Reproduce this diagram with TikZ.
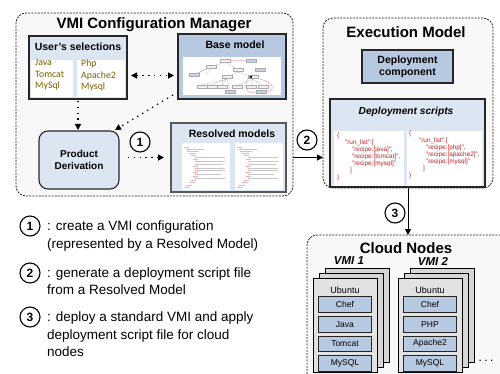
\documentclass[tikz,border=0pt]{standalone}
\usepackage{fontspec}
\setmainfont{Liberation Sans}
\newfontfamily\calfont{Carlito}
\usetikzlibrary{arrows.meta}
\definecolor{steel}{HTML}{B7C9E0}
\definecolor{pale}{HTML}{DCE6F2}
\definecolor{bgg}{HTML}{F8F8F8}
\definecolor{selcol}{HTML}{7F6000}
\definecolor{jred}{HTML}{C02020}
\definecolor{stk}{HTML}{D6D6D6}
\definecolor{stkf}{HTML}{E2E2E2}
\definecolor{bord}{HTML}{262626}
\definecolor{mblue}{HTML}{C5D2EA}
\tikzset{
 cont/.style={draw=black!85, fill=bgg, dash pattern=on 2pt off 1.2pt, line width=0.8pt, rounded corners=10pt, anchor=north west, inner sep=0pt, outer sep=0pt},
 box/.style={draw=bord, line width=1.1pt, anchor=north west, inner sep=0pt, outer sep=0pt},
 panel/.style={fill=white, anchor=north west, inner sep=0pt, outer sep=0pt},
 ttl/.style={font=\fontsize{15}{17}\selectfont\bfseries, inner sep=0pt},
 hdr/.style={font=\fontsize{10.5}{12}\selectfont\bfseries, inner sep=0pt},
 seltext/.style={anchor=north west, inner sep=0pt, align=left, text=selcol, font=\calfont\fontsize{9.8}{11.5}\selectfont},
 jtext/.style={anchor=north west, inner sep=0pt, align=left, text=jred, font=\fontsize{6.4}{7}\selectfont},
 dotarr/.style={line width=1.3pt, dash pattern=on 1.3pt off 4.5pt, -{Triangle[length=6pt,width=6pt]}},
 solarr/.style={line width=1pt, -{Triangle[length=6pt,width=6pt]}},
 num/.style={circle, draw=black, line width=1.1pt, minimum size=20pt, inner sep=0pt, font=\fontsize{12}{12}\selectfont\bfseries, fill=white},
 legtext/.style={anchor=north west, inner sep=0pt, align=left, font=\fontsize{13.5}{17.5}\selectfont},
 stkbox/.style={draw=black, line width=0.9pt, fill=stk, anchor=north west, minimum width=64pt, minimum height=94pt, inner sep=0pt, outer sep=0pt},
 swbox/.style={draw=bord, line width=0.9pt, fill=steel, anchor=north west, minimum width=53pt, minimum height=15.5pt, inner sep=0pt, font=\fontsize{8.5}{10}\selectfont},
 vmil/.style={font=\fontsize{11.5}{12}\selectfont\bfseries\itshape, inner sep=0pt},
}
\begin{document}
\begin{tikzpicture}[x=1pt,y=-1pt]
\useasboundingbox (0,0) rectangle (500,374);
\clip (0,0) rectangle (500,374);
\fill[white] (0,0) rectangle (500,374);

% ---------- containers
\node[cont, minimum width=277pt, minimum height=183pt] (vmi) at (16,13) {};
\node[cont, minimum width=170pt, minimum height=170pt] (exec) at (323,18) {};
\node[cont, minimum width=210pt, minimum height=150pt] (cloud) at (307,235) {};
\node[ttl] (vmit) at (154,25) {VMI Configuration Manager};
\node[ttl] (exect) at (406,32) {Execution Model};
\node[ttl] (cloudt) at (406,248) {Cloud Nodes};

% ---------- user's selections
\node[box, fill=pale, minimum width=98pt, minimum height=63pt] (sel) at (29,36) {};
\node[hdr] (selh) at (78,47) {User's selections};
\node[panel, minimum width=42pt, minimum height=37pt] (selL) at (31,60) {};
\node[panel, minimum width=48pt, minimum height=37pt] (selR) at (77,60) {};
\node[seltext] (selLt) at (35,59.5) {Java\\Tomcat\\MySql};
\node[seltext] (selRt) at (81,59.5) {Php\\Apache2\\Mysql};

% ---------- base model
\node[box, fill=steel, minimum width=108pt, minimum height=65pt] (base) at (178,34) {};
\node[hdr, font=\fontsize{10.5}{12}\selectfont\bfseries] (baseh) at (235,45) {Base model};
\node[panel, minimum width=98pt, minimum height=38pt] (bimg) at (183,57) {};
\begin{scope}[line width=0.25pt]
 \draw[gray!60] (225,62) -- (211,67) (225,62) -- (238,70) (238,72) -- (227,77) (238,72) -- (253,77)
   (227,79) -- (201,85) (227,79) -- (211,85) (227,79) -- (221,85) (227,79) -- (230,90)
   (253,79) -- (238,85) (253,79) -- (251,85) (253,79) -- (262,85) (211,69) -- (206,75);
 \draw[red!60] (230,60.5) -- (246,60.5) (208,68) -- (196,74) (248,78) .. controls (241,91) and (251,95) .. (259,92)
   (259,79) .. controls (274,82) and (277,91) .. (265,92);
 \foreach \bx/\by/\bc in {220/59/gray!12,246/59/mblue,206/65/gray!12,189/73/mblue,233/68/gray!12,255/68/mblue,
   222/75/gray!12,248/75/gray!12,197/85/gray!12,207/85/gray!12,217/85/gray!12,232/85/gray!12,246/85/gray!12,258/85/gray!12,225/90/mblue,256/90/mblue}
   {\fill[\bc] (\bx,\by) rectangle ++(10,3.2); \draw[gray!65] (\bx,\by) rectangle ++(10,3.2);}
 \fill[black] (249,77) -- (252,75.5) -- (251.5,78.5) -- cycle;
\end{scope}

% ---------- product derivation
\node[box, fill=pale, rounded corners=9pt, minimum width=80pt, minimum height=58pt, align=center,
  font=\fontsize{10}{11.5}\selectfont\bfseries] (pd) at (39,131) {Product\\Derivation};

% ---------- resolved models
\node[box, draw=black!65, line width=1.6pt, fill=pale, minimum width=115pt, minimum height=69pt] (rm) at (171,123) {};
\node[hdr] (rmh) at (232,134) {Resolved models};
\node[panel, minimum width=48pt, minimum height=47pt] (rm1) at (182,143) {};
\node[panel, minimum width=48pt, minimum height=47pt] (rm2) at (235,143) {};
\foreach \px in {182,235} {
 \foreach \i/\a/\b in {0/2/5,1/4/18,2/5/12,3/7/7,4/9/5,5/13/30,6/11/5,7/13/30,8/13/28,9/11/5,10/13/30,11/13/30,12/11/5,13/13/26,14/11/5,15/13/30,16/9/5,17/7/6,18/4/6,19/2/6}
 {\draw[line width=0.45pt, gray!45] (\px+\a, 147+\i*2.1) -- ++(\b,0);
  \draw[line width=0.45pt, red!35] (\px+\a, 147+\i*2.1) -- ++(1.5,0);}
}

% ---------- execution model contents
\node[box, fill=steel, minimum width=91pt, minimum height=33pt, align=center,
  font=\fontsize{10.5}{12}\selectfont\bfseries] (dc) at (362,50) {Deployment\\component};
\node[box, fill=pale, minimum width=155pt, minimum height=88pt] (ds) at (330,99) {};
\node[hdr, font=\fontsize{10.2}{12}\selectfont\bfseries\itshape] (dsh) at (406,112) {Deployment scripts};
\node[panel, minimum width=70pt, minimum height=55pt] (js1) at (334,131) {};
\node[panel, minimum width=75pt, minimum height=55pt] (js2) at (407,131) {};
\node[jtext] (j1) at (337,133) {\{\\\hspace*{8pt}"run\_list":[\\\hspace*{15pt}"recipe:[java]",\\\hspace*{15pt}"recipe:[tomcat]",\\\hspace*{15pt}"recipe:[mysql]"\\\hspace*{13pt}]\\\}};
\node[jtext] (j2) at (409,131) {\{\\\hspace*{10pt}"run\_list":[\\\hspace*{17pt}"recipe:[php]",\\\hspace*{17pt}"recipe:[apache2]",\\\hspace*{17pt}"recipe:[mysql]"\\\hspace*{14pt}]\\\}};

% ---------- cloud nodes
\node[vmil] (v1) at (349,261) {VMI 1};
\node[vmil] (v2) at (433,261) {VMI 2};
\node[stkbox] (s1c) at (325,268) {};
\node[stkbox] (s1b) at (319,273) {};
\node[stkbox, fill=stkf] (s1a) at (313,278) {};
\node[font=\fontsize{9}{10}\selectfont, inner sep=0pt] (u1) at (345,290) {Ubuntu};
\node[swbox] (s1chef) at (318,296) {Chef};
\node[swbox] (s1java) at (318,316) {Java};
\node[swbox] (s1tom) at (318,335.5) {Tomcat};
\node[swbox] (s1my) at (318,355) {MySQL};
\node[stkbox] (s2c) at (410,268) {};
\node[stkbox] (s2b) at (404,273) {};
\node[stkbox, fill=stkf] (s2a) at (398,278) {};
\node[font=\fontsize{9}{10}\selectfont, inner sep=0pt] (u2) at (430,290) {Ubuntu};
\node[swbox] (s2chef) at (403,296) {Chef};
\node[swbox] (s2php) at (403,316) {PHP};
\node[swbox] (s2ap) at (403,335.5) {Apache2};
\node[swbox] (s2my) at (403,355) {MySQL};
\node[font=\fontsize{12}{12}\selectfont, inner sep=0pt] (dots) at (486,361) {.\kern2.5pt.\kern2.5pt.};

% ---------- connectors
\draw[dotarr, {Triangle[length=6pt,width=6pt]}-{Triangle[length=6pt,width=6pt]}, shorten <=4pt, shorten >=4pt]
  ([yshift=-8pt]sel.east) -- ([yshift=-8pt]sel.east -| base.west);
\draw[dotarr, shorten <=2pt, shorten >=1pt] (sel.south) -- (sel.south |- pd.north);
\draw[dotarr] ([xshift=-5pt,yshift=4pt]base.south west) -- ([xshift=-4pt,yshift=1pt]pd.north east);
\draw[dotarr, shorten <=9pt, shorten >=7pt] (pd.east |- rm.west) -- (rm.west);
\draw[solarr] (vmi.east |- rm.center) -- (exec.west |- rm.center);
\draw[solarr] (exec.south) -- (exec.south |- cloud.north);

\node[num] (c1) at (140,142) {1};
\node[num] (c2) at (307,140) {2};
\node[num] (c3) at (395,213) {3};

% ---------- legend
\node[num] (l1) at (30,226) {1};
\node[num] (l2) at (30,273) {2};
\node[num] (l3) at (30,317) {3};
\node[legtext] (t1) at (47,221) {: create a VMI configuration\\(represented by a Resolved Model)};
\node[legtext] (t2) at (47,267.5) {: generate a deployment script file\\from a Resolved Model};
\node[legtext] (t3) at (47,312) {: deploy a standard VMI and apply\\deployment script file for cloud\\nodes};
\end{tikzpicture}
\end{document}
